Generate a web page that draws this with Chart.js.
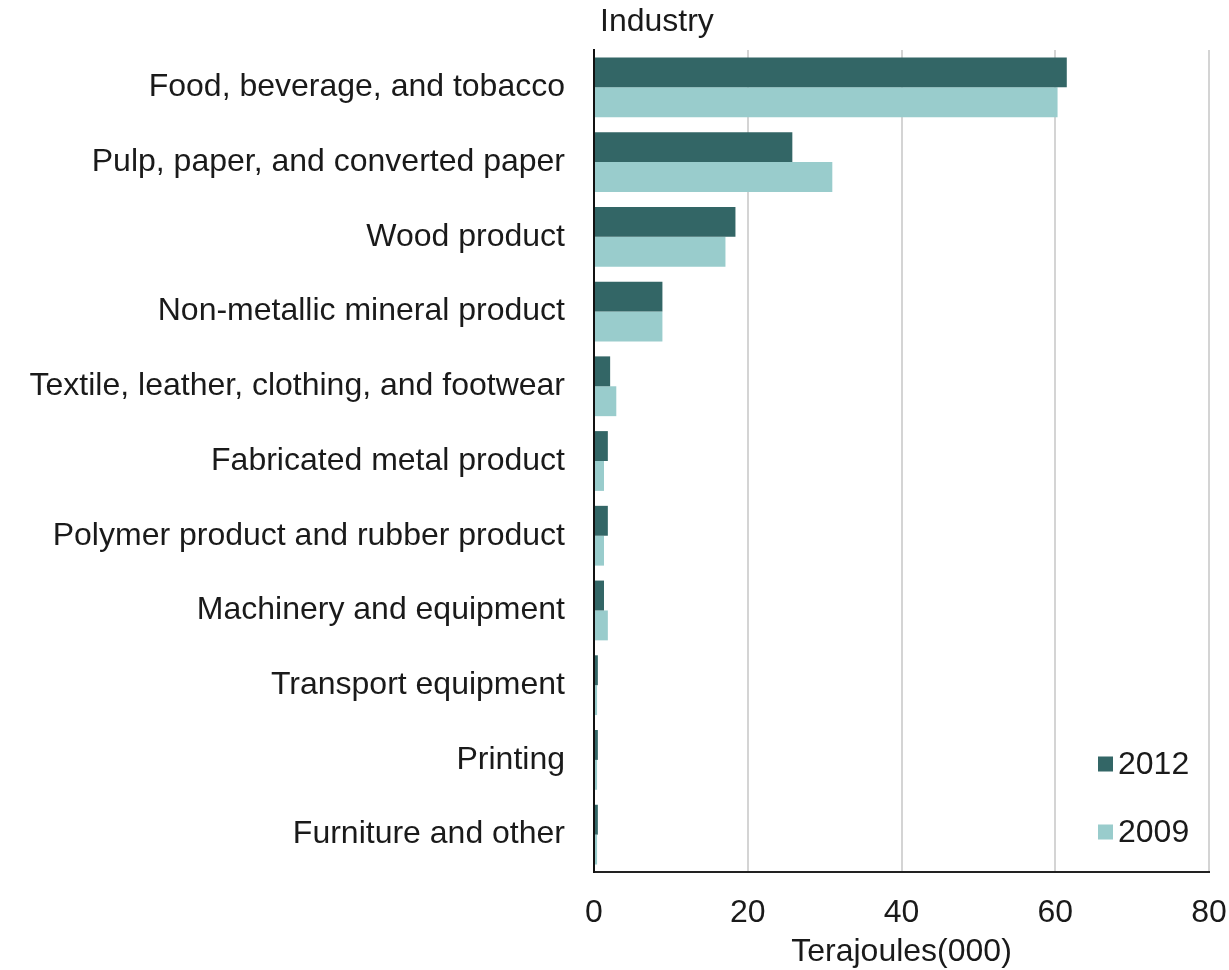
<!DOCTYPE html>
<html>
<head>
<meta charset="utf-8">
<script src="https://cdn.jsdelivr.net/npm/chart.js@4"></script>
<style>
  html, body { margin: 0; padding: 0; background: #ffffff; }
  #wrap { width: 1229px; height: 970px; position: relative; }
</style>
</head>
<body>
<div id="wrap"><canvas id="c" width="1229" height="970"></canvas></div>
<script>
const categories = [
  "Food, beverage, and tobacco",
  "Pulp, paper, and converted paper",
  "Wood product",
  "Non-metallic mineral product",
  "Textile, leather, clothing, and footwear",
  "Fabricated metal product",
  "Polymer product and rubber product",
  "Machinery and equipment",
  "Transport equipment",
  "Printing",
  "Furniture and other"
];
const values2012 = [61.5, 25.8, 18.4, 8.9, 2.1, 1.8, 1.8, 1.3, 0.5, 0.5, 0.5];
const values2009 = [60.3, 31.0, 17.1, 8.9, 2.9, 1.3, 1.3, 1.8, 0.4, 0.4, 0.4];
const seriesNames = ["2012", "2009"];
const xTicks = [0, 20, 40, 60, 80];
const xTitle = "Terajoules(000)";
const yTitle = "Industry";

const FONT = "'Liberation Sans', Arial, sans-serif";
const DARK = "#336666";
const LIGHT = "#99cccc";

const overlay = {
  id: 'overlay',
  afterDraw(chart) {
    const ctx = chart.ctx;
    const area = chart.chartArea;
    ctx.save();
    ctx.fillStyle = '#1a1a1a';
    ctx.font = '32px ' + FONT;
    ctx.textBaseline = 'middle';
    ctx.textAlign = 'left';
    ctx.fillText(yTitle, area.left + 6, 22);
    // legend
    const colors = [DARK, LIGHT];
    const ys = [764, 832];
    seriesNames.forEach((name, i) => {
      ctx.fillStyle = colors[i];
      ctx.fillRect(1098, ys[i] - 7.5, 15, 15);
      ctx.fillStyle = '#1a1a1a';
      ctx.fillText(name, 1118, ys[i] + 1);
    });
    ctx.restore();
  }
};

new Chart(document.getElementById('c'), {
  type: 'bar',
  data: {
    labels: categories,
    datasets: [
      { label: seriesNames[0], data: values2012, backgroundColor: DARK, categoryPercentage: 0.8, barPercentage: 1.0 },
      { label: seriesNames[1], data: values2009, backgroundColor: LIGHT, categoryPercentage: 0.8, barPercentage: 1.0 }
    ]
  },
  options: {
    indexAxis: 'y',
    responsive: false,
    animation: false,
    layout: { padding: { left: 0, right: 20, top: 50, bottom: 0 } },
    plugins: {
      legend: { display: false },
      tooltip: { enabled: false },
      title: { display: false }
    },
    scales: {
      x: {
        min: 0, max: 80,
        afterBuildTicks(scale) { scale.ticks = xTicks.map(v => ({ value: v })); },
        afterFit(scale) { scale.height = 98; scale.paddingRight = 0; scale.paddingLeft = 0; },
        grid: { color: '#d4d4d4', lineWidth: 2, drawTicks: false },
        border: { display: true, color: '#222222', width: 2 },
        ticks: { padding: 22, color: '#1a1a1a', font: { family: FONT, size: 32 } },
        title: { display: true, text: xTitle, color: '#1a1a1a', font: { family: FONT, size: 32, lineHeight: 1.1 }, padding: { top: 0, bottom: 0 } }
      },
      y: {
        afterFit(scale) { scale.width = 594; scale.paddingTop = 0; scale.paddingBottom = 0; },
        grid: { display: false, drawTicks: false },
        border: { display: true, color: '#111111', width: 2 },
        ticks: { padding: 29, color: '#1a1a1a', font: { family: FONT, size: 32 }, autoSkip: false }
      }
    }
  },
  plugins: [overlay]
});
</script>
</body>
</html>
